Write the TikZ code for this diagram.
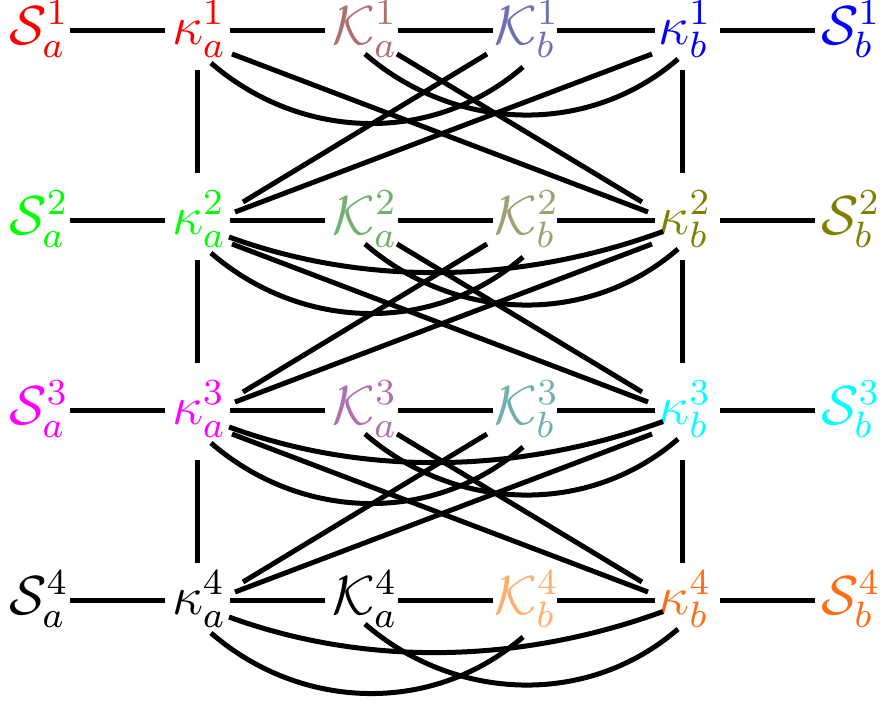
\documentclass[tikz,border=0pt]{standalone}
\usepackage{graphicx}
\usetikzlibrary{calc}
\definecolor{cKaA}{HTML}{B07070}
\definecolor{cKbA}{HTML}{7070B0}
\definecolor{cKaB}{HTML}{70B070}
\definecolor{cKbB}{HTML}{A0A070}
\definecolor{cKaC}{HTML}{B070B0}
\definecolor{cKbC}{HTML}{70B0B0}
\definecolor{cKbD}{HTML}{FFB070}
\definecolor{cOrange}{HTML}{FF6E14}
\definecolor{cOlive}{RGB}{128,128,0}
\definecolor{cRed}{RGB}{255,0,0}
\definecolor{cGreen}{RGB}{0,255,0}
\definecolor{cBlue}{RGB}{0,0,255}
\definecolor{cMagenta}{RGB}{255,0,255}
\definecolor{cCyan}{RGB}{0,255,255}
\newcommand{\mylab}[1]{\scalebox{1.1}{$#1$}}
\begin{document}
\begin{tikzpicture}[x=0.24pt,y=-0.24pt,
  lbl/.style={font=\large, inner sep=0pt, text height=11.9pt, text depth=5.3pt},
  edge/.style={line width=1.2pt, black}]
\useasboundingbox (0,0) rectangle (883,715);
% row 1
\node[lbl, text=cRed]     (Sa1) at (39,30.5)  {\mylab{\mathcal{S}_a^1}};
\node[lbl, text=cRed]     (ka1) at (199,30.5) {\mylab{\kappa_a^1}};
\node[lbl, text=cKaA]     (Ka1) at (365,30.5) {\mylab{\mathcal{K}_a^1}};
\node[lbl, text=cKbA]     (Kb1) at (527,30.5) {\mylab{\mathcal{K}_b^1}};
\node[lbl, text=cBlue]    (kb1) at (685,30.5) {\mylab{\kappa_b^1}};
\node[lbl, text=cBlue]    (Sb1) at (851,30.5) {\mylab{\mathcal{S}_b^1}};
% row 2
\node[lbl, text=cGreen]   (Sa2) at (39,220.5)  {\mylab{\mathcal{S}_a^2}};
\node[lbl, text=cGreen]   (ka2) at (199,220.5) {\mylab{\kappa_a^2}};
\node[lbl, text=cKaB]     (Ka2) at (365,220.5) {\mylab{\mathcal{K}_a^2}};
\node[lbl, text=cKbB]     (Kb2) at (527,220.5) {\mylab{\mathcal{K}_b^2}};
\node[lbl, text=cOlive]   (kb2) at (685,220.5) {\mylab{\kappa_b^2}};
\node[lbl, text=cOlive]   (Sb2) at (851,220.5) {\mylab{\mathcal{S}_b^2}};
% row 3
\node[lbl, text=cMagenta] (Sa3) at (39,410.5)  {\mylab{\mathcal{S}_a^3}};
\node[lbl, text=cMagenta] (ka3) at (199,410.5) {\mylab{\kappa_a^3}};
\node[lbl, text=cKaC]     (Ka3) at (365,410.5) {\mylab{\mathcal{K}_a^3}};
\node[lbl, text=cKbC]     (Kb3) at (527,410.5) {\mylab{\mathcal{K}_b^3}};
\node[lbl, text=cCyan]    (kb3) at (685,410.5) {\mylab{\kappa_b^3}};
\node[lbl, text=cCyan]    (Sb3) at (851,410.5) {\mylab{\mathcal{S}_b^3}};
% row 4
\node[lbl, text=black]    (Sa4) at (39,600.5)  {\mylab{\mathcal{S}_a^4}};
\node[lbl, text=black]    (ka4) at (199,600.5) {\mylab{\kappa_a^4}};
\node[lbl, text=black]    (Ka4) at (365,600.5) {\mylab{\mathcal{K}_a^4}};
\node[lbl, text=cKbD]     (Kb4) at (527,600.5) {\mylab{\mathcal{K}_b^4}};
\node[lbl, text=cOrange]  (kb4) at (685,600.5) {\mylab{\kappa_b^4}};
\node[lbl, text=cOrange]  (Sb4) at (851,600.5) {\mylab{\mathcal{S}_b^4}};

% edges within rows
\foreach \i in {1,2,3,4} {
  \draw[edge] ($(Sa\i)+(31,0)$) -- ($(ka\i)+(-34,0)$);
  \draw[edge] ($(ka\i)+(31,0)$) -- ($(Ka\i)+(-40,0)$);
  \draw[edge] ($(Ka\i)+(33,0)$) -- ($(Kb\i)+(-34,0)$);
  \draw[edge] ($(Kb\i)+(30,0)$) -- ($(kb\i)+(-30,0)$);
  \draw[edge] ($(kb\i)+(35,0)$) -- ($(Sb\i)+(-36,0)$);
  \draw[edge] ($(ka\i)+(12,32.5)$) .. controls +(90,78) and +(-90,78) .. ($(Kb\i)+(-4,36.5)$);
  \draw[edge] ($(kb\i)+(-7,28.5)$) .. controls +(-90,78) and +(90,78) .. ($(Ka\i)+(0,23.5)$);
}
\foreach \i in {2,3,4} {
  \draw[edge] ($(ka\i)+(30,16.5)$) .. controls +(140,51) and +(-140,51) .. ($(kb\i)+(-22,11)$);
}
% edges between rows
\foreach \i/\j/\s in {1/2/0,2/3/0,3/4/10} {
  \draw[edge] ($(ka\i)+(33,23.5)$) -- ($(kb\j)+(-37,-8.5)$);
  \draw[edge] ($(Ka\i)+(32,23.5)$) -- ($(kb\j)+(-43,-18.5)$);
  \draw[edge] ($(Kb\i)+(-40,23.5)$) -- ($(ka\j)+(44,-18.5)$);
  \draw[edge] ($(kb\i)+(-33,23.5)$) -- ($(ka\j)+(36,-8.5)$);
  \draw[edge] ($(ka\i)+(-2,39.5+\s)$) -- ($(ka\j)+(-2,-47.5+\s)$);
  \draw[edge] ($(kb\i)+(-3,39.5+\s)$) -- ($(kb\j)+(-3,-47.5+\s)$);
}
\end{tikzpicture}
\end{document}
